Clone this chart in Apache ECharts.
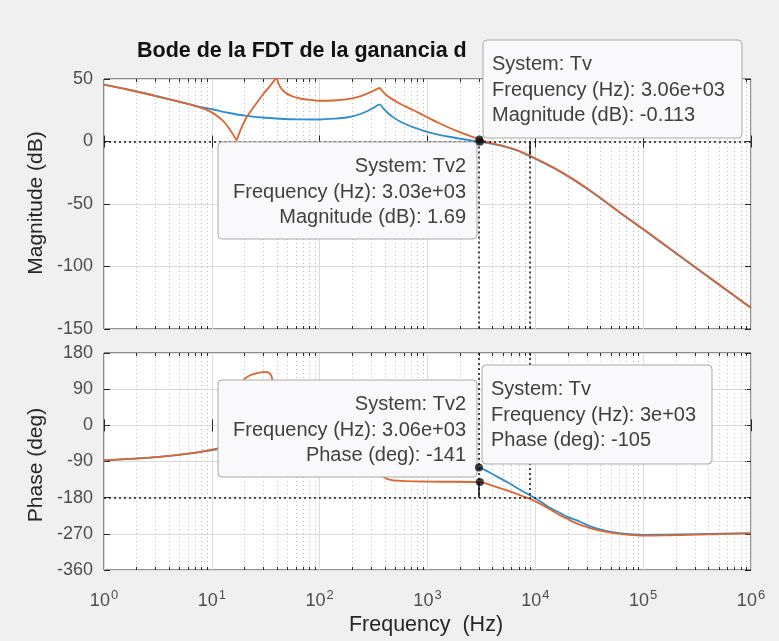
<!DOCTYPE html>
<html><head><meta charset="utf-8">
<script src="https://cdn.jsdelivr.net/npm/echarts@6/dist/echarts.min.js"></script>
<style>html,body{margin:0;padding:0;background:#f0f0f0}#c{width:779px;height:641px}</style>
</head><body><div id="c"></div>
<script>
// ---------- data ----------
const titleText = 'Bode de la FDT de la ganancia d';
const magTicks = { min: -150, max: 50, interval: 50 };
const phaseTicks = { min: -360, max: 180, interval: 90 };
const freqRange = { min: 1, max: 1000000 };

// Tv (blue) magnitude
const magFreqTv = [1, 2, 3.16, 5.07, 7.08, 10.33, 14.13, 20.89, 31.62, 42.66, 63.1, 100, 141.3, 177.8, 223.9, 275.4, 323.6, 358.9, 389, 426.6, 478.6, 562.3, 707.9, 851.1, 1122, 1585, 2239, 3060, 3981, 5012, 6761, 8913, 11480, 14620, 20890, 31620, 42660, 63100, 100000, 199500, 363100, 631000, 1000000];
const magTv     = [45.5, 40, 36, 31.7, 28.5, 25.6, 23, 20.5, 19, 18.2, 17.7, 17.6, 18.3, 19.2, 21.2, 24.2, 27.5, 29.7, 26.5, 23, 19.5, 15.8, 12, 9.6, 6.5, 3.8, 1.6, -0.113, -1.8, -3.7, -7.2, -11.7, -16.3, -21, -28.8, -39, -47, -58, -70.3, -89.2, -105.6, -120.7, -133.3];

// Tv2 (orange) magnitude
const magFreqTv2 = [1, 2, 3.16, 5.07, 7.08, 8.91, 10.33, 11.75, 13.18, 14.45, 15.49, 16.41, 16.98, 17.58, 18.62, 20.89, 25.12, 30.06, 34.67, 38.46, 39.81, 41.21, 42.95, 45.71, 49.55, 56.23, 65.77, 79.43, 100, 131.8, 177.8, 223.9, 275.4, 323.6, 358.9, 380.2, 416.9, 478.6, 562.3, 741.3, 916.2, 1259, 1862, 3030, 3981, 5012, 6761, 8913, 11480, 14620, 20890, 31620, 42660, 63100, 100000, 199500, 363100, 631000, 1000000];
const magTv2     = [45.5, 40, 36, 31.7, 28.3, 25.5, 22.5, 19, 15, 10.5, 6.5, 3, 1, 4.5, 10, 19, 29, 38, 44.5, 49.5, 51, 47, 43.8, 40.8, 38.3, 36, 34.4, 33.3, 32.6, 32.8, 33.7, 35.5, 38.3, 41, 42.8, 40.5, 37, 33.5, 30, 25, 21, 15, 8.5, 1.69, -1.5, -3.4, -6.9, -11.4, -16, -20.7, -28.5, -38.7, -46.7, -57.7, -70, -88.9, -105.3, -120.4, -133];

// Tv (blue) phase
const phaseFreqTv = [1, 3.09, 6.31, 11.09, 15.85, 31.62, 79.43, 158.5, 281.8, 354.8, 446.7, 1000, 3000, 3631, 4365, 5623, 7079, 8913, 11220, 13800, 16980, 19500, 23990, 31620, 39810, 50120, 63100, 79430, 100000, 158500, 316200, 1000000];
const phaseTv     = [-87, -79, -70, -60, -50, -35, -30, -40, -60, -90, -100, -100, -105, -115, -127, -143, -159, -174, -190, -206, -218, -227, -236, -250, -259, -265, -269, -271.5, -272.5, -272, -270.5, -268];

// Tv2 (orange) phase
const phaseFreqTv2 = [1, 3.09, 6.31, 11.09, 14.13, 15.85, 16.98, 18.2, 19.5, 22.39, 26.3, 31.62, 34.67, 36.31, 38.02, 41.69, 50.12, 79.43, 158.5, 281.8, 331.1, 398.1, 478.6, 1000, 3060, 3981, 5433, 7079, 8913, 11220, 14130, 16980, 19500, 25120, 31620, 39810, 50120, 63100, 79430, 100000, 158500, 316200, 1000000];
const phaseTv2     = [-87, -79, -70, -58, -50, -42, 20, 95, 112, 124, 130, 133, 128, 115, 60, -40, -62, -60, -62, -80, -110, -130, -137, -140, -141, -150, -162, -173, -183, -196, -211, -224, -232, -246, -255, -262, -267, -270.5, -273, -274.5, -274, -272, -269];

// data tips
const tipMagTv    = [3060, -0.113];
const tipMagTv2   = [3030, 1.69];
const tipPhaseTv  = [3000, -105];
const tipPhaseTv2 = [3060, -141];

// stability-margin markers
const gainCrossFreq  = 3000;
const phaseCrossFreq = 8800;
const gainMarginDb   = -10.5;
const phaseAtCross   = -141;

// ---------- chart ----------
const FONT = '"Liberation Sans", Arial, Helvetica, sans-serif';
const AX = '#262626';
const TXT = '#4d4d4d';
const BLUE = '#2f8dd0';
const ORANGE = '#df6530';
const TIPTXT = '#404040';

const zip = (a, b) => a.map((v, i) => [v, b[i]]);

const minorFreqs = [];
for (let k = 0; k < 6; k++) for (let m = 2; m < 10; m++) minorFreqs.push([m * Math.pow(10, k), 0]);

function minorRender(params, api) {
  const cs = params.coordSys;
  const x = Math.round(api.coord([api.value(0), 0])[0]) + 0.5;
  const y0 = cs.y, y1 = cs.y + cs.height;
  return { type: 'group', children: [
    { type: 'line', shape: { x1: x, y1: y0, x2: x, y2: y1 }, style: { stroke: '#bdbdbd', lineWidth: 1, lineDash: [1, 3] } },
    { type: 'line', shape: { x1: x, y1: y1, x2: x, y2: y1 - 3 }, style: { stroke: AX, lineWidth: 1 } },
    { type: 'line', shape: { x1: x, y1: y0, x2: x, y2: y0 + 3 }, style: { stroke: AX, lineWidth: 1 } }
  ]};
}

const xBase = {
  type: 'log', logBase: 10, min: freqRange.min, max: freqRange.max, splitNumber: 6,
  axisLine: { show: false },
  axisTick: { show: true, inside: true, length: 6, lineStyle: { color: AX } },
  splitLine: { show: true, lineStyle: { color: '#dcdcdc', width: 1 } },
  axisLabel: { show: false }
};
const yLabel = { show: true, color: TXT, fontFamily: FONT, fontSize: 18, margin: 11 };
const yTick = { show: true, inside: true, length: 6, lineStyle: { color: AX } };

const dotted = { color: '#1a1a1a', width: 1.6, type: [2, 3] };
const solid = { color: '#1a1a1a', width: 1.6, type: 'solid' };

function tipBox(x, y, w, h, lines, alignRight) {
  const children = [{ type: 'rect', shape: { x: x, y: y, width: w, height: h, r: 4 },
    style: { fill: '#f9f9fb', stroke: '#a9a9a9', lineWidth: 1 }, z: 100 }];
  lines.forEach((t, i) => {
    children.push({ type: 'text', z: 101, style: {
      x: alignRight ? x + w - 11 : x + 9, y: y + 24.5 + i * 25.7,
      text: t, font: '20px ' + FONT, fill: TIPTXT,
      textAlign: alignRight ? 'right' : 'left', textVerticalAlign: 'middle' } });
  });
  return { type: 'group', children: children };
}

const lineCommon = { type: 'line', showSymbol: false, smooth: 0.3 };

const option = {
  animation: false,
  backgroundColor: '#f0f0f0',
  grid: [
    { left: 104, top: 79, width: 647, height: 250, show: true, backgroundColor: '#fff', borderColor: AX, borderWidth: 1 },
    { left: 104, top: 353, width: 647, height: 217, show: true, backgroundColor: '#fff', borderColor: AX, borderWidth: 1 }
  ],
  xAxis: [
    Object.assign({}, xBase, { gridIndex: 0, position: 'bottom' }),
    Object.assign({}, xBase, { gridIndex: 1, position: 'bottom',
      axisLabel: { show: true, margin: 19, color: TXT, fontFamily: FONT,
        formatter: v => '{b|10}{s|' + Math.round(Math.log10(v)) + '}',
        rich: { b: { fontSize: 18, color: TXT, fontFamily: FONT },
                s: { fontSize: 13, color: TXT, fontFamily: FONT, padding: [0, 0, 11, 1] } } } }),
    Object.assign({}, xBase, { gridIndex: 0, position: 'top', splitLine: { show: false } }),
    Object.assign({}, xBase, { gridIndex: 1, position: 'top', splitLine: { show: false } })
  ],
  yAxis: [
    { gridIndex: 0, type: 'value', min: magTicks.min, max: magTicks.max, interval: magTicks.interval, position: 'left',
      axisLine: { show: false }, axisTick: yTick, axisLabel: yLabel, splitLine: { show: true, lineStyle: { color: '#dcdcdc' } } },
    { gridIndex: 1, type: 'value', min: phaseTicks.min, max: phaseTicks.max, interval: phaseTicks.interval, position: 'left',
      axisLine: { show: false }, axisTick: yTick, axisLabel: yLabel, splitLine: { show: true, lineStyle: { color: '#dcdcdc' } } },
    { gridIndex: 0, type: 'value', min: magTicks.min, max: magTicks.max, interval: magTicks.interval, position: 'right',
      axisLine: { show: false }, axisTick: yTick, axisLabel: { show: false }, splitLine: { show: false } },
    { gridIndex: 1, type: 'value', min: phaseTicks.min, max: phaseTicks.max, interval: phaseTicks.interval, position: 'right',
      axisLine: { show: false }, axisTick: yTick, axisLabel: { show: false }, splitLine: { show: false } }
  ],
  series: [
    { type: 'custom', xAxisIndex: 0, yAxisIndex: 0, data: minorFreqs, renderItem: minorRender, silent: true, z: 1 },
    { type: 'custom', xAxisIndex: 1, yAxisIndex: 1, data: minorFreqs, renderItem: minorRender, silent: true, z: 1 },
    Object.assign({}, lineCommon, { name: 'Tv', xAxisIndex: 0, yAxisIndex: 0, data: zip(magFreqTv, magTv),
      lineStyle: { color: BLUE, width: 1.8 }, z: 3,
      markLine: { silent: true, symbol: 'none', label: { show: false }, lineStyle: dotted, data: [
        [{ coord: [freqRange.min, 0] }, { coord: [freqRange.max, 0] }],
        [{ coord: [gainCrossFreq, 0] }, { coord: [gainCrossFreq, magTicks.min] }],
        [{ coord: [phaseCrossFreq, 0] }, { coord: [phaseCrossFreq, magTicks.min] }],
        [{ coord: [phaseCrossFreq, 0], lineStyle: solid }, { coord: [phaseCrossFreq, gainMarginDb] }]
      ] } }),
    Object.assign({}, lineCommon, { name: 'Tv2', xAxisIndex: 0, yAxisIndex: 0, data: zip(magFreqTv2, magTv2),
      lineStyle: { color: ORANGE, width: 1.8 }, z: 4 }),
    Object.assign({}, lineCommon, { name: 'Tv', xAxisIndex: 1, yAxisIndex: 1, data: zip(phaseFreqTv, phaseTv),
      lineStyle: { color: BLUE, width: 1.8 }, z: 3,
      markLine: { silent: true, symbol: 'none', label: { show: false }, lineStyle: dotted, data: [
        [{ coord: [freqRange.min, -180] }, { coord: [freqRange.max, -180] }],
        [{ coord: [gainCrossFreq, phaseTicks.max] }, { coord: [gainCrossFreq, -180] }],
        [{ coord: [phaseCrossFreq, phaseTicks.max] }, { coord: [phaseCrossFreq, -180] }],
        [{ coord: [gainCrossFreq, -180], lineStyle: solid }, { coord: [gainCrossFreq, phaseAtCross] }]
      ] } }),
    Object.assign({}, lineCommon, { name: 'Tv2', xAxisIndex: 1, yAxisIndex: 1, data: zip(phaseFreqTv2, phaseTv2),
      lineStyle: { color: ORANGE, width: 1.8 }, z: 4 }),
    { type: 'scatter', xAxisIndex: 0, yAxisIndex: 0, data: [tipMagTv, tipMagTv2], symbolSize: 8,
      itemStyle: { color: '#111' }, z: 200, silent: true },
    { type: 'scatter', xAxisIndex: 1, yAxisIndex: 1, data: [tipPhaseTv, tipPhaseTv2], symbolSize: 8,
      itemStyle: { color: '#111' }, z: 200, silent: true }
  ],
  graphic: [
    { type: 'text', z: 10, style: { x: 137, y: 51, text: titleText, font: 'bold 21.5px ' + FONT, fill: '#111', textAlign: 'left', textVerticalAlign: 'middle' } },
    { type: 'text', z: 10, rotation: Math.PI / 2, x: 36, y: 203, style: { x: 0, y: 0, text: 'Magnitude (dB)', font: '21px ' + FONT, fill: AX, textAlign: 'center', textVerticalAlign: 'middle' } },
    { type: 'text', z: 10, rotation: Math.PI / 2, x: 36, y: 465, style: { x: 0, y: 0, text: 'Phase (deg)', font: '21px ' + FONT, fill: AX, textAlign: 'center', textVerticalAlign: 'middle' } },
    { type: 'text', z: 10, style: { x: 426, y: 625, text: 'Frequency  (Hz)', font: '21.5px ' + FONT, fill: AX, textAlign: 'center', textVerticalAlign: 'middle' } },
    tipBox(218, 142, 259, 97, ['System: Tv2', 'Frequency (Hz): 3.03e+03', 'Magnitude (dB): 1.69'], true),
    tipBox(483, 40, 259, 98, ['System: Tv', 'Frequency (Hz): 3.06e+03', 'Magnitude (dB): -0.113'], false),
    tipBox(218, 380, 259, 97, ['System: Tv2', 'Frequency (Hz): 3.06e+03', 'Phase (deg): -141'], true),
    tipBox(482, 365, 230, 99, ['System: Tv', 'Frequency (Hz): 3e+03', 'Phase (deg): -105'], false)
  ]
};
const chart = echarts.init(document.getElementById('c'));
chart.setOption(option);
</script>
</body></html>
